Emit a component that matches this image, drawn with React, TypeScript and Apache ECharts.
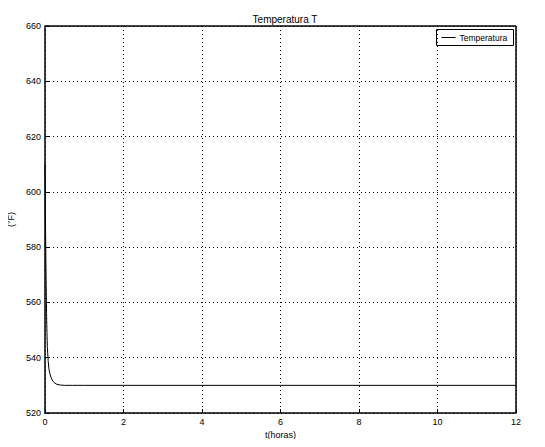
import React, { useEffect, useRef } from "react";
import * as echarts from "echarts";

const timeHours = [0, 0.01, 0.02, 0.03, 0.04, 0.05, 0.06, 0.08, 0.1, 0.12, 0.15, 0.2, 0.25, 0.3, 0.4, 0.5, 0.7, 1, 2, 4, 6, 8, 10, 12];
const temperature = [610, 592, 578, 566, 556, 549, 544, 539, 536, 534.5, 533, 531.5, 530.8, 530.4, 530.1, 530, 530, 530, 530, 530, 530, 530, 530, 530];
const xTicks = [0, 2, 4, 6, 8, 10, 12];
const yTicks = [520, 540, 560, 580, 600, 620, 640, 660];
const seriesName = "Temperatura";
const titleText = "Temperatura T";
const xLabel = "t(horas)";
const yLabel = "(°F)";

export default function App() {
  const ref = useRef<HTMLDivElement>(null);
  useEffect(() => {
    if (!ref.current) return;
    const chart = echarts.init(ref.current, null, { renderer: "svg" });
    const font = "Liberation Sans, Arial, sans-serif";
    chart.setOption({
      animation: false,
      backgroundColor: "#ffffff",
      title: {
        text: titleText,
        left: 280,
        top: 9,
        textAlign: "center",
        textStyle: { fontFamily: font, fontSize: 10, fontWeight: "normal", color: "#000" },
      },
      legend: { show: false },
      grid: { left: 45, right: 29, top: 26, bottom: 34, containLabel: false, outerBoundsMode: "none" },
      xAxis: {
        type: "value",
        min: 0,
        max: 12,
        interval: 2,
        name: xLabel,
        nameLocation: "middle",
        nameGap: 14,
        nameTextStyle: { fontFamily: font, fontSize: 9, color: "#000" },
        axisLine: { show: true, onZero: false, lineStyle: { color: "#000", width: 1.5 } },
        axisTick: { show: true, inside: true, length: 4, lineStyle: { color: "#000" } },
        axisLabel: { fontFamily: font, fontSize: 9, color: "#000", margin: 4, formatter: (v: number) => (xTicks.includes(v) ? String(v) : "") },
        splitLine: { show: true, lineStyle: { color: "#000", type: [1, 3], width: 1 } },
      },
      yAxis: {
        type: "value",
        min: 520,
        max: 660,
        interval: 20,
        name: yLabel,
        nameLocation: "middle",
        nameGap: 27,
        nameRotate: 90,
        nameTextStyle: { fontFamily: font, fontSize: 9, color: "#000" },
        axisLine: { show: true, lineStyle: { color: "#000", width: 1.5 } },
        axisTick: { show: true, inside: true, length: 4, lineStyle: { color: "#000" } },
        axisLabel: { fontFamily: font, fontSize: 9, color: "#000", margin: 4, formatter: (v: number) => (yTicks.includes(v) ? String(v) : "") },
        splitLine: { show: true, lineStyle: { color: "#000", type: [1, 3], width: 1 } },
      },
      graphic: [
        {
          type: "group",
          left: 436,
          top: 29,
          children: [
            { type: "rect", shape: { x: 0, y: 0, width: 77, height: 16 }, style: { fill: "#fff", stroke: "#000", lineWidth: 1 } },
            { type: "line", shape: { x1: 5, y1: 8, x2: 19, y2: 8 }, style: { stroke: "#000", lineWidth: 1 } },
            { type: "text", x: 23, y: 8, style: { text: seriesName, fontFamily: font, fontSize: 8.5, fill: "#000", verticalAlign: "middle" } },
          ],
        },
      ],
      series: [
        {
          name: seriesName,
          type: "line",
          data: timeHours.map((t, i) => [t, temperature[i]]),
          showSymbol: false,
          smooth: false,
          lineStyle: { color: "#000", width: 1 },
          itemStyle: { color: "#000" },
          markLine: {
            silent: true,
            symbol: "none",
            label: { show: false },
            lineStyle: { color: "#000", type: "solid", width: 1.5 },
            data: [[{ coord: [0, 660] }, { coord: [12, 660] }], [{ coord: [12, 520] }, { coord: [12, 660] }]],
          },
        },
      ],
    });
    return () => chart.dispose();
  }, []);
  return <div ref={ref} style={{ width: 545, height: 447, margin: -8 }} />;
}
